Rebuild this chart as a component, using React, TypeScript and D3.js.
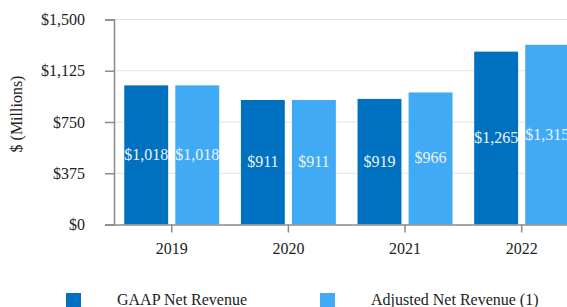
import React from "react";
import * as d3 from "d3";

const years = ["2019", "2020", "2021", "2022"];
const gaapRevenue = [1018, 911, 919, 1265];
const adjustedRevenue = [1018, 911, 966, 1315];
const yTicks = [0, 375, 750, 1125, 1500];
const seriesNames = ["GAAP Net Revenue", "Adjusted Net Revenue (1)"];
const seriesColors = ["#0070c0", "#41aaf5"];

function App() {
  const svgRef = React.useRef<SVGSVGElement>(null);

  React.useEffect(() => {
    const width = 567;
    const height = 307;
    const font = '"Liberation Serif", "DejaVu Serif", "Tinos", Times, serif';
    const svg = d3
      .select(svgRef.current)
      .attr("width", width)
      .attr("height", height);
    svg.selectAll("*").remove();

    // scales
    const left = 114;
    const top = 19.5;
    const bottom = 224.5;
    const x0 = d3.scaleBand<string>().domain(years).range([113.4, 580]).paddingInner(0.186).paddingOuter(0.093);
    const x1 = d3.scaleBand<number>().domain([0, 1]).range([0, x0.bandwidth()]).paddingInner(0.14);
    const y = d3.scaleLinear().domain([0, 1500]).range([bottom, top]);

    // gridlines
    svg
      .append("g")
      .selectAll("line")
      .data(yTicks.slice(1))
      .enter()
      .append("line")
      .attr("x1", left)
      .attr("x2", width)
      .attr("y1", (d) => y(d))
      .attr("y2", (d) => y(d))
      .attr("stroke", "#e3e3e3")
      .attr("stroke-width", 1.2);

    // bars
    const rows = years.map((yr, i) => ({ yr, vals: [gaapRevenue[i], adjustedRevenue[i]] }));
    const groups = svg
      .append("g")
      .selectAll("g")
      .data(rows)
      .enter()
      .append("g")
      .attr("transform", (d) => `translate(${x0(d.yr)},0)`);

    groups
      .selectAll("rect")
      .data((d) => d.vals)
      .enter()
      .append("rect")
      .attr("x", (_d, i) => x1(i)!)
      .attr("y", (d) => y(d))
      .attr("width", x1.bandwidth())
      .attr("height", (d) => y(0) - y(d))
      .attr("fill", (_d, i) => seriesColors[i]);

    groups
      .selectAll("text")
      .data((d) => d.vals)
      .enter()
      .append("text")
      .attr("x", (_d, i) => x1(i)! + x1.bandwidth() / 2)
      .attr("y", (d) => (y(d) + y(0)) / 2 + 5)
      .attr("text-anchor", "middle")
      .attr("font-size", 16)
      .attr("fill", "#eaf4ff")
      .text((d) => "$" + d3.format(",")(d));

    // y axis
    const yAxis = d3
      .axisLeft(y)
      .tickValues(yTicks)
      .tickSize(9)
      .tickPadding(20)
      .tickFormat((d) => "$" + d3.format(",")(d as number));
    const gy = svg.append("g").attr("transform", `translate(${left},0)`).call(yAxis);
    gy.attr("font-family", null).attr("font-size", null);
    gy.select(".domain").attr("stroke", "#8a8a8a").attr("stroke-width", 1.5);
    gy.selectAll(".tick line").attr("stroke", "#8a8a8a").attr("stroke-width", 1.5);
    gy.selectAll(".tick text").attr("font-size", 16).attr("fill", "#222");

    // x axis
    const xAxis = d3.axisBottom(x0).tickSize(8).tickPadding(10).tickSizeOuter(0);
    const gx = svg.append("g").attr("transform", `translate(0,${bottom})`).call(xAxis);
    gx.attr("font-family", null).attr("font-size", null);
    gx.select(".domain").attr("stroke", "#8a8a8a").attr("stroke-width", 1.5);
    gx.selectAll(".tick line").attr("stroke", "#8a8a8a").attr("stroke-width", 1.5);
    gx.selectAll(".tick text").attr("font-size", 16).attr("fill", "#222");

    // axis label
    svg
      .append("text")
      .attr("transform", `translate(22,${(top + bottom) / 2 - 8}) rotate(-90)`)
      .attr("text-anchor", "middle")
      .attr("font-size", 16)
      .attr("fill", "#222")
      .text("$ (Millions)");

    // legend
    const legendX = [66, 320];
    const legend = svg
      .append("g")
      .selectAll("g")
      .data(seriesNames)
      .enter()
      .append("g")
      .attr("transform", (_d, i) => `translate(${legendX[i]},293)`);
    legend
      .append("rect")
      .attr("width", 15)
      .attr("height", 15)
      .attr("fill", (_d, i) => seriesColors[i]);
    legend
      .append("text")
      .attr("x", 51)
      .attr("y", 12)
      .attr("font-size", 16)
      .attr("fill", "#222")
      .text((d) => d);
  }, []);

  return (
    <svg
      ref={svgRef}
      style={{ position: "absolute", left: 0, top: 0, background: "#fff", fontFamily: '"Liberation Serif", "DejaVu Serif", serif' }}
    />
  );
}

export default App;
